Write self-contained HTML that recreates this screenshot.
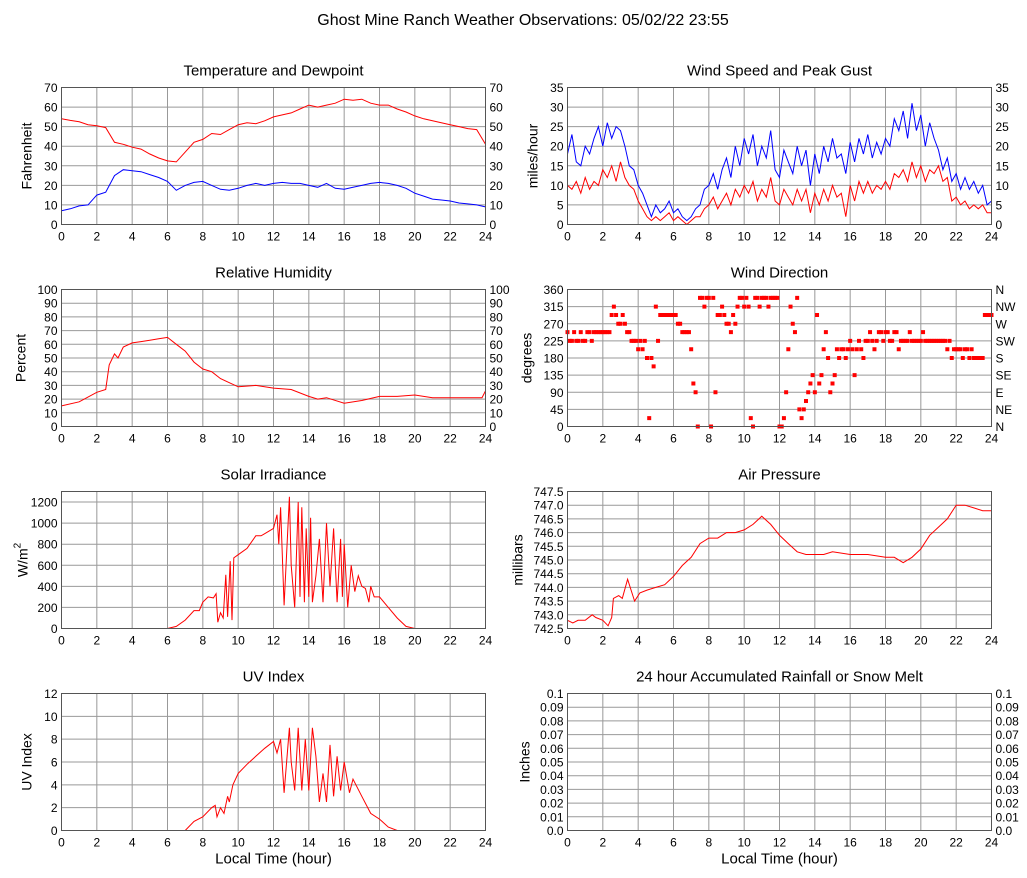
<!DOCTYPE html>
<html><head><meta charset="utf-8">
<style>
html,body{margin:0;padding:0;background:#fff;}
svg{display:block;font-family:"Liberation Sans",sans-serif;}
</style></head>
<body>
<svg id="chart" width="1027" height="878" viewBox="0 0 1027 878" xmlns="http://www.w3.org/2000/svg">
<text x="523" y="25" text-anchor="middle" font-size="16">Ghost Mine Ranch Weather Observations: 05/02/22 23:55</text>
</svg>
<script>
const tempHours=[0,0.5,1,1.5,2,2.5,3,3.5,4,4.5,5,5.5,6,6.5,7,7.5,8,8.5,9,9.5,10,10.5,11,11.5,12,12.5,13,13.5,14,14.5,15,15.5,16,16.5,17,17.5,18,18.5,19,19.5,20,20.5,21,21.5,22,22.5,23,23.5,24];
const tempValues=[54,53.2,52.5,51,50.5,49.5,42,41,39.5,38.5,36,34,32.5,32,37,42,43.5,46.5,46,48.5,51,52,51.5,53,55,56,57,59,61,60,61,62,64,63.5,64,62,61,61,59,57.5,55.5,54,53,52,51,50,49,48.5,41];
const dewValues=[7,8,9.5,10,15,16.5,25,28,27.5,27,25.5,24,22,17.5,20,21.5,22,20,18,17.5,18.5,20,21,20,21,21.5,21,21,20,19,21,18.5,18,19,20,21,21.5,21,20,18.5,16,14.5,13,12.5,12,11,10.5,10,9];
const windHours=[];for(let i=0;i<=96;i++)windHours.push(i/4);
const gustValues=[18,23,16,15,20,18,22,25,20,26,22,25,24,20,15,14,10,8,5,2,5,3,4,6,3,4,2,1,2,4,5,9,10,13,9,14,17,12,20,15,22,18,23,15,20,17,24,14,12,19,16,13,20,15,19,10,18,13,20,16,22,17,18,13,21,16,22,18,23,17,21,18,22,20,27,24,29,22,31,24,28,20,26,22,19,14,17,11,13,9,12,9,11,8,10,5,6];
const speedValues=[10,9,11,8,12,9,11,10,14,12,15,11,16,12,10,9,6,4,2,1,2,1,2,3,1,2,1,0,1,2,2,4,5,7,4,6,8,5,9,7,10,8,11,6,9,7,12,6,5,9,7,5,9,6,9,3,8,5,9,6,10,7,8,2,10,6,11,8,11,8,10,9,11,9,13,12,14,11,16,12,15,11,14,13,15,11,12,6,7,5,6,4,5,4,5,3,3];
const rhHours=[0,1,2,2.5,2.7,3,3.2,3.5,4,4.5,5,5.5,6,6.5,7,7.5,8,8.5,9,9.5,10,11,12,13,14,14.5,15,16,17,18,19,20,21,22,23,23.8,24];
const rhValues=[15,18,25,27,45,53,50,58,61,62,63,64,65,60,55,47,42,40,35,32,29,30,28,27,22,20,21,17,19,22,22,23,21,21,21,21,26];
const dirHours=[];for(let i=0;i<=192;i++)dirHours.push(i/8);
const dirValues=[248,225,225,248,225,225,248,225,225,248,248,225,248,248,248,248,248,248,248,248,293,315,293,270,270,293,270,248,248,225,225,225,203,225,203,225,180,22,180,158,315,225,293,293,293,293,293,293,293,293,270,270,248,248,248,248,203,113,90,0,338,338,315,338,338,0,338,90,293,293,315,293,270,270,248,293,270,315,338,338,315,338,315,22,0,338,338,315,338,338,338,315,338,338,338,338,0,0,22,90,203,315,270,248,338,45,22,45,67,90,113,135,90,293,113,135,203,248,180,90,113,135,203,180,203,203,180,203,225,203,135,203,225,203,180,225,225,248,225,203,225,248,248,225,248,248,225,225,248,248,203,225,225,225,225,248,225,225,225,225,225,248,225,225,225,225,225,225,225,225,225,225,203,225,180,203,203,203,203,180,203,203,180,203,180,180,180,180,180,293,293,293,293];
const solarHours=[0,6,6.5,7,7.5,7.8,8,8.3,8.6,8.75,8.85,9,9.15,9.3,9.4,9.55,9.65,9.75,10,10.5,11,11.3,11.5,12,12.2,12.3,12.4,12.6,12.9,13,13.2,13.4,13.5,13.6,13.75,13.85,14,14.1,14.2,14.4,14.6,14.8,15,15.2,15.4,15.6,15.8,15.9,16,16.2,16.4,16.6,16.8,17,17.2,17.4,17.5,17.7,18,18.5,19,19.5,20,24];
const solarValues=[0,0,20,80,170,170,250,300,290,330,60,150,100,510,110,640,80,670,700,760,880,880,900,950,1080,800,1150,220,1250,600,200,1200,300,1150,250,950,300,1050,250,500,850,250,1000,400,950,250,850,300,800,200,600,350,500,400,380,250,400,300,300,200,100,20,0,0];
const pressHours=[0,0.3,0.6,1,1.4,1.6,2,2.3,2.5,2.6,2.9,3.1,3.4,3.8,4.1,4.5,5,5.5,6,6.5,7,7.5,8,8.5,9,9.5,10,10.5,11,11.5,12,12.5,13,13.5,14,14.5,15,16,17,18,18.5,19,19.5,20,20.5,21,21.5,22,22.5,23,23.5,24];
const pressValues=[742.8,742.7,742.8,742.8,743,742.9,742.8,742.6,742.9,743.6,743.7,743.6,744.3,743.5,743.8,743.9,744,744.1,744.4,744.8,745.1,745.6,745.8,745.8,746,746,746.1,746.3,746.6,746.3,745.9,745.6,745.3,745.2,745.2,745.2,745.3,745.2,745.2,745.1,745.1,744.9,745.1,745.4,745.9,746.2,746.5,747,747,746.9,746.8,746.8];
const uvHours=[0,7,7.5,8,8.5,8.7,8.8,9,9.2,9.4,9.5,9.7,10,10.5,11,11.5,12,12.2,12.4,12.6,12.9,13,13.2,13.4,13.6,13.8,14,14.2,14.4,14.6,14.8,15,15.2,15.4,15.6,15.8,16,16.3,16.5,17,17.5,18,18.5,19,24];
const uvValues=[0,0,0.8,1.2,2,2.2,1.2,2,1.5,3,2.5,4,5,5.8,6.5,7.2,7.8,6.8,8,3.3,9,6,3.5,9,3.5,8,3.5,9,6.5,2.5,5,2.5,7.5,3,6.5,3.5,6,3.3,4.5,3,1.5,1,0.3,0,0];
const rainHours=[];const rainValues=[];
const xTickLabels=["0","2","4","6","8","10","12","14","16","18","20","22","24"];
const dirLabels=["N","NE","E","SE","S","SW","W","NW","N"];

const svg=document.getElementById('chart');
const NS='http://www.w3.org/2000/svg';
function mk(tag,attrs,parent){const e=document.createElementNS(NS,tag);for(const k in attrs)e.setAttribute(k,attrs[k]);(parent||svg).appendChild(e);return e;}
const W=424,H=137;
function panel(opt){
  const g=mk('g',{});
  
  
  const x0=opt.x,y0=opt.y;
  const xs=h=>x0+h/24*W;
  const ys=v=>y0+H-(v-opt.min)/(opt.max-opt.min)*H;
  const t=mk('text',{x:x0+W/2,y:y0-12,'text-anchor':'middle','font-size':'15'},g);t.textContent=opt.title;
  
  
  for(let i=1;i<12;i++){const l=mk('line',{x1:xs(i*2),x2:xs(i*2),y1:y0,y2:y0+H,stroke:'#999','stroke-width':1},g);
    
    }
  opt.ticks.forEach((v,i)=>{
    const yy=ys(v);
    if(v>opt.min&&yy>y0+0.5){const l=mk('line',{x1:x0,x2:x0+W,y1:yy,y2:yy,stroke:'#999','stroke-width':1},g);
      
      }
    const tl=mk('text',{x:x0-4,y:yy+4.5,'text-anchor':'end','font-size':'12'},g);tl.textContent=opt.tickLabels[i];
    
    
    if(opt.rightLabels){const tr=mk('text',{x:x0+W+4,y:yy+4.5,'text-anchor':'start','font-size':'12'},g);tr.textContent=opt.rightLabels[i];
      
      }
  });
  xTickLabels.forEach((s,i)=>{const tx=mk('text',{x:xs(i*2),y:y0+H+16,'text-anchor':'middle','font-size':'12'},g);tx.textContent=s;
    
    });
  const yl=mk('text',{x:0,y:0,'text-anchor':'middle','font-size':'14',transform:`translate(${x0-opt.ylOff},${y0+H/2}) rotate(-90)`},g);
  
  
  if(opt.sup){yl.textContent='W/m';const ts=mk('tspan',{dy:'-7','font-size':'10'},yl);ts.textContent='2';}
  else yl.textContent=opt.ylabel;
  opt.series.forEach(s=>{
    if(s.dots){s.y.forEach((v,i)=>{const r=mk('rect',{x:xs(s.x[i])-2,y:ys(v)-2,width:4,height:4,fill:s.color},g);
      
      });}
    else if(s.y.length){const p=mk('polyline',{points:s.y.map((v,i)=>xs(s.x[i]).toFixed(1)+','+ys(v).toFixed(1)).join(' '),fill:'none',stroke:s.color,'stroke-width':1},g);
      
      }
  });
  const f=mk('rect',{x:x0,y:y0,width:W,height:H,fill:'none',stroke:'#555','stroke-width':1},g);
  
  
  if(opt.xlabel){const xl=mk('text',{x:x0+W/2,y:y0+H+33,'text-anchor':'middle','font-size':'15'},g);xl.textContent='Local Time (hour)';
    
    }
}
function rng(a,b,s,d){const t=[],l=[];for(let v=a;v<=b+1e-9;v+=s){t.push(+v.toFixed(4));l.push(d!=null?v.toFixed(d):String(Math.round(v)));}return [t,l];}
const L=61.5,R=567.5,T=[87.5,289.5,491.5,693.5];
let tk;
tk=rng(0,70,10);panel({name:'temperature',title:'Temperature and Dewpoint',x:L,y:T[0],min:0,max:70,ticks:tk[0],tickLabels:tk[1],rightLabels:tk[1],ylabel:'Fahrenheit',ylOff:30,series:[{name:'temperature-line',x:tempHours,y:tempValues,color:'#f00'},{name:'dewpoint-line',x:tempHours,y:dewValues,color:'#00f'}]});
tk=rng(0,35,5);panel({name:'wind-speed',title:'Wind Speed and Peak Gust',x:R,y:T[0],min:0,max:35,ticks:tk[0],tickLabels:tk[1],rightLabels:tk[1],ylabel:'miles/hour',ylOff:30,series:[{name:'gust-line',x:windHours,y:gustValues,color:'#00f'},{name:'speed-line',x:windHours,y:speedValues,color:'#f00'}]});
tk=rng(0,100,10);panel({name:'humidity',title:'Relative Humidity',x:L,y:T[1],min:0,max:100,ticks:tk[0],tickLabels:tk[1],rightLabels:tk[1],ylabel:'Percent',ylOff:36,series:[{name:'humidity-line',x:rhHours,y:rhValues,color:'#f00'}]});
tk=rng(0,360,45);panel({name:'wind-direction',title:'Wind Direction',x:R,y:T[1],min:0,max:360,ticks:tk[0],tickLabels:tk[1],rightLabels:dirLabels,ylabel:'degrees',ylOff:36,series:[{dots:true,x:dirHours,y:dirValues,color:'#f00'}]});
tk=rng(0,1200,200);panel({name:'solar',title:'Solar Irradiance',x:L,y:T[2],min:0,max:1300,ticks:tk[0],tickLabels:tk[1],sup:true,ylOff:34,series:[{name:'solar-line',x:solarHours,y:solarValues,color:'#f00'}]});
tk=rng(742.5,747.5,0.5,1);panel({name:'pressure',title:'Air Pressure',x:R,y:T[2],min:742.5,max:747.5,ticks:tk[0],tickLabels:tk[1],ylabel:'millibars',ylOff:45,series:[{name:'pressure-line',x:pressHours,y:pressValues,color:'#f00'}]});
tk=rng(0,12,2);panel({name:'uv',title:'UV Index',x:L,y:T[3],min:0,max:12,ticks:tk[0],tickLabels:tk[1],ylabel:'UV Index',ylOff:30,xlabel:true,series:[{name:'uv-line',x:uvHours,y:uvValues,color:'#f00'}]});
tk=rng(0,0.1,0.01);tk[1]=tk[0].map(v=>v===0?'0.0':String(v));panel({name:'rainfall',title:'24 hour Accumulated Rainfall or Snow Melt',x:R,y:T[3],min:0,max:0.1,ticks:tk[0],tickLabels:tk[1],rightLabels:tk[1],ylabel:'Inches',ylOff:38,xlabel:true,series:[{name:'rain-line',x:rainHours,y:rainValues,color:'#f00'}]});
</script>
</body></html>
